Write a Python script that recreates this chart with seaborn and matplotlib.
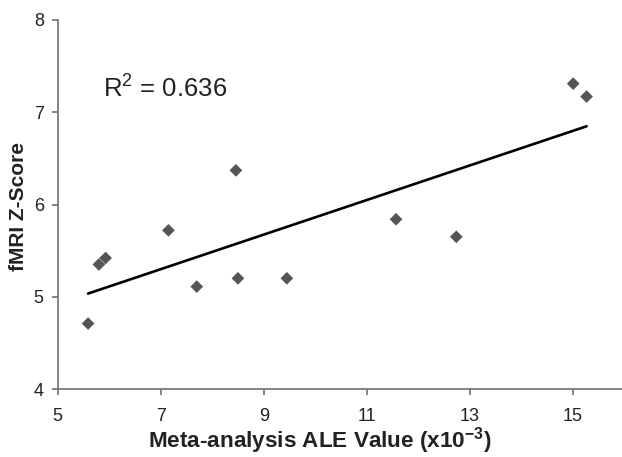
import matplotlib
matplotlib.use("Agg")
import matplotlib.pyplot as plt
import seaborn as sns
import numpy as np
import pandas as pd

# Data
ale_values = [5.59, 5.80, 5.93, 7.15, 7.70, 8.46, 8.50, 9.45, 11.57, 12.74, 15.01, 15.27]
z_scores = [4.71, 5.35, 5.42, 5.72, 5.11, 6.37, 5.20, 5.20, 5.84, 5.65, 7.31, 7.17]
x_ticks = [5, 7, 9, 11, 13, 15]
y_ticks = [4, 5, 6, 7, 8]
r2_text = "R$^{\\mathregular{2}}$ = 0.636"

sns.set_style("white")
plt.rcParams["font.family"] = ["Liberation Sans", "DejaVu Sans"]

df = pd.DataFrame({"ale": ale_values, "z": z_scores})

fig = plt.figure(figsize=(6.22, 4.57), dpi=100)
ax_w = 11 * 51.5
ax = fig.add_axes([57.7 / 622, (457 - 389) / 457, ax_w / 622, 369 / 457])

sns.regplot(data=df, x="ale", y="z", ax=ax, ci=None, marker="D",
            scatter_kws=dict(s=42, color="#2b2b2b", edgecolor="none", zorder=3),
            line_kws=dict(color="black", lw=1.9))

ax.set_xlim(5, 16)
ax.set_ylim(4, 8)
ax.set_xticks(x_ticks)
ax.set_yticks(y_ticks)

for s in ["top", "right"]:
    ax.spines[s].set_visible(False)
for s in ["left", "bottom"]:
    ax.spines[s].set_color("#707070")
    ax.spines[s].set_linewidth(1.2)
ax.tick_params(axis="both", direction="out", length=4, width=1.2, color="#707070",
               labelsize=13, labelcolor="#222222", left=True, bottom=True)
ax.tick_params(axis="y", pad=6)
ax.tick_params(axis="x", pad=10)

ax.set_xlabel("Meta-analysis ALE Value (x10$^{\\mathregular{-3}}$)", fontsize=16.2,
              fontweight="bold", color="#222222")
ax.xaxis.set_label_coords((320 - 57.7) / ax_w, -(441 - 389) / 369)
ax.xaxis.label.set_va("center")
ax.set_ylabel("fMRI Z-Score", fontsize=15, fontweight="bold", color="#222222")
ax.yaxis.set_label_coords(-(57.7 - 18) / ax_w, 0.495)
ax.yaxis.label.set_va("center")

ax.text(5.88, 7.27, r2_text, fontsize=18.5, color="#222222", va="center", ha="left")

fig.savefig("out.png", dpi=100)
